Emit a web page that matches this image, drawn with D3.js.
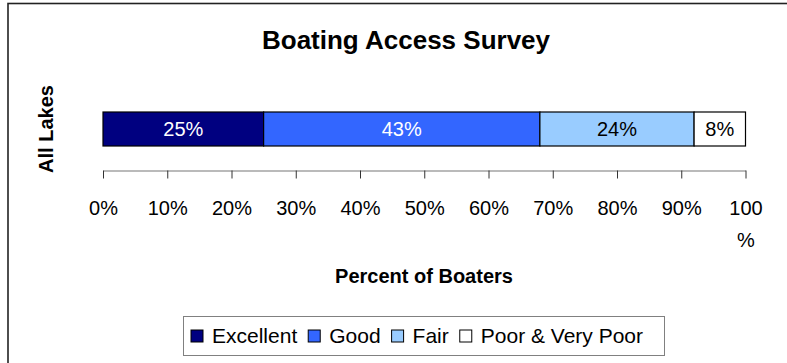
<!DOCTYPE html>
<html>
<head>
<meta charset="utf-8">
<script src="https://cdn.jsdelivr.net/npm/d3@7"></script>
<style>
  html, body { margin: 0; padding: 0; background: #fff; }
  svg { display: block; font-family: Arial, "Liberation Sans", sans-serif; }
</style>
</head>
<body>
<svg id="chart" width="787" height="363"></svg>
<script>
// ---- Data ----
const categories = ["All Lakes"];
const seriesNames = ["Excellent", "Good", "Fair", "Poor & Very Poor"];
const seriesValues = [25, 43, 24, 8];
const seriesColors = ["#000080", "#3366FF", "#99CCFF", "#FFFFFF"];
const labelColors = ["#FFFFFF", "#FFFFFF", "#000000", "#000000"];
const tickValues = [0, 10, 20, 30, 40, 50, 60, 70, 80, 90, 100];
const tickLabels = ["0%", "10%", "20%", "30%", "40%", "50%", "60%", "70%", "80%", "90%", "100%"];
const chartTitle = "Boating Access Survey";
const xTitle = "Percent of Boaters";

const svg = d3.select("#chart");

// chart frame
svg.append("rect")
  .attr("x", 8).attr("y", 3.5).attr("width", 800).attr("height", 400)
  .attr("fill", "#fff").attr("stroke", "#222").attr("stroke-width", 1.6);

// title
svg.append("text")
  .attr("x", 406).attr("y", 49)
  .attr("text-anchor", "middle")
  .attr("font-size", 26).attr("font-weight", "bold")
  .text(chartTitle);

const x = d3.scaleLinear().domain([0, 100]).range([103, 745.5]);
const y = d3.scaleBand().domain(categories).range([112, 146]).padding(0);

// stacked data
const stackRows = [Object.fromEntries(seriesNames.map((s, i) => [s, seriesValues[i]]))];
stackRows[0].cat = categories[0];
const stacked = d3.stack().keys(seriesNames)(stackRows);

const g = svg.append("g");
stacked.forEach((layer, i) => {
  layer.forEach(d => {
    g.append("rect")
      .attr("x", x(d[0])).attr("y", y(d.data.cat))
      .attr("width", x(d[1]) - x(d[0])).attr("height", y.bandwidth())
      .attr("fill", seriesColors[i]).attr("stroke", "#000").attr("stroke-width", 1.2);
    g.append("text")
      .attr("x", (x(d[0]) + x(d[1])) / 2)
      .attr("y", y(d.data.cat) + y.bandwidth() / 2 + 7)
      .attr("text-anchor", "middle")
      .attr("font-size", 20)
      .attr("fill", labelColors[i])
      .text(seriesValues[i] + "%");
  });
});

// x axis
const axis = d3.axisBottom(x)
  .tickValues(tickValues)
  .tickSize(8).tickSizeOuter(0)
  .tickPadding(22)
  .tickFormat((d, i) => tickLabels[i]);
const ax = svg.append("g").attr("transform", "translate(0,170.5)").call(axis);
ax.select(".domain").attr("stroke", "#777").attr("stroke-width", 1.2);
ax.selectAll(".tick line").attr("stroke", "#333").attr("stroke-width", 1);
ax.selectAll(".tick text")
  .attr("font-size", 20).attr("fill", "#000")
  .attr("font-family", "Arial, 'Liberation Sans', sans-serif")
  .each(function () {
    const t = d3.select(this);
    const s = t.text();
    if (this.getComputedTextLength() > 45) {
      t.text(null);
      t.append("tspan").attr("x", 0).text(s.slice(0, -1));
      t.append("tspan").attr("x", 0).attr("dy", "1.6em").text(s.slice(-1));
    }
  });

// x axis title
svg.append("text")
  .attr("x", 424).attr("y", 283)
  .attr("text-anchor", "middle")
  .attr("font-size", 20).attr("font-weight", "bold")
  .text(xTitle);

// y axis category label
svg.append("text")
  .attr("transform", `translate(53, ${y(categories[0]) + y.bandwidth() / 2}) rotate(-90)`)
  .attr("text-anchor", "middle")
  .attr("font-size", 20).attr("font-weight", "bold")
  .text(categories[0]);

// legend
const legend = svg.append("g");
legend.append("rect")
  .attr("x", 183.5).attr("y", 316.5).attr("width", 481).attr("height", 39)
  .attr("fill", "#fff").attr("stroke", "#808080").attr("stroke-width", 1);
let lx = 191;
seriesNames.forEach((s, i) => {
  legend.append("rect")
    .attr("x", lx).attr("y", 330).attr("width", 12).attr("height", 12)
    .attr("fill", seriesColors[i]).attr("stroke", "#000").attr("stroke-width", 1);
  const t = legend.append("text")
    .attr("x", lx + 21).attr("y", 343)
    .attr("font-size", 21).attr("fill", "#000")
    .text(s);
  lx += 21 + t.node().getComputedTextLength() + 11;
});
</script>
</body>
</html>
